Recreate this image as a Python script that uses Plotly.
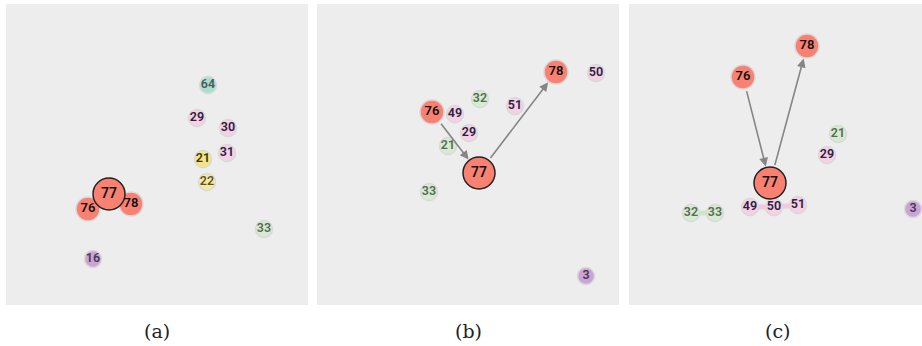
import plotly.graph_objects as go

W, H = 922, 346

# Panel frames in page pixels: left, top, right, bottom
panels = {
    "a": (6, 4, 308, 305),
    "b": (317, 4, 619, 305),
    "c": (629, 4, 922, 305),
}

# Node ids, positions (pixels inside each panel) and groups
a_ids = ["64", "29", "30", "31", "21", "22", "33", "16", "76", "78", "77"]
a_x = [202, 191, 222, 221, 197, 201, 258, 87, 82, 125, 103]
a_y = [81, 114, 124, 149, 155, 178, 225, 255, 205, 200, 190]
a_grp = ["teal", "pink", "pink", "pink", "yellow", "yellow2", "green", "purple", "red", "red", "focus"]

b_ids = ["78", "50", "32", "51", "76", "49", "29", "21", "33", "3", "77"]
b_x = [239, 279, 163, 198, 115, 138, 152, 131, 112, 269, 162]
b_y = [68, 69, 95, 102, 108, 110, 129, 142, 188, 272, 169]
b_grp = ["red", "pink", "green", "pink", "red", "pink", "pink", "green", "green", "purple", "focus"]

c_ids = ["78", "76", "21", "29", "49", "50", "51", "32", "33", "3", "77"]
c_x = [178, 114, 209, 198, 121, 145, 169, 62, 86, 284, 141]
c_y = [42, 73, 130, 151, 203, 203, 201, 209, 209, 205, 179]
c_grp = ["red", "red", "green", "pink", "pink", "pink", "pink", "green", "green", "purple", "focus"]

# Directed links (source -> target) per panel
b_arrows = [("76", "77"), ("77", "78")]
c_arrows = [("76", "77"), ("77", "78")]
# Undirected chains drawn under the nodes in panel c
c_links = [(["32", "33"], "green"), (["49", "50", "51"], "pink")]

fill = {
    "red": "#f98172", "focus": "#f98172", "pink": "#f7d0e4", "green": "#d6ecd1",
    "teal": "#aadccf", "yellow": "#f6e47c", "yellow2": "#f6eaa2", "purple": "#c9a4d4",
}
link_col = {"green": "#cde6c6", "pink": "#f6c8de"}
txt_col = {
    "red": "#111111", "focus": "#111111", "pink": "#2a2040", "green": "#5a6a58",
    "teal": "#4a5e5a", "yellow": "#3a3520", "yellow2": "#5a5530", "purple": "#4a3a55",
}
size = {"red": 24, "focus": 32}
font_sz = {"red": 13, "focus": 14}

fig = go.Figure()

data = [
    ("a", a_ids, a_x, a_y, a_grp, [], []),
    ("b", b_ids, b_x, b_y, b_grp, b_arrows, []),
    ("c", c_ids, c_x, c_y, c_grp, c_arrows, c_links),
]

annotations = []
layout_axes = {}
for i, (key, ids, xs, ys, grps, arrows, links) in enumerate(data, start=1):
    l, t, r, b = panels[key]
    sfx = "" if i == 1 else str(i)
    xa, ya = f"x{sfx}", f"y{sfx}"
    layout_axes[f"xaxis{sfx}"] = dict(domain=[l / W, r / W], range=[0, r - l],
                                     visible=False, fixedrange=True)
    layout_axes[f"yaxis{sfx}"] = dict(domain=[1 - b / H, 1 - t / H], range=[b - t, 0],
                                     visible=False, fixedrange=True)
    pos = {n: (x, y) for n, x, y in zip(ids, xs, ys)}
    grp = dict(zip(ids, grps))

    for chain, g in links:
        fig.add_trace(go.Scatter(
            x=[pos[n][0] for n in chain], y=[pos[n][1] for n in chain],
            mode="lines", line=dict(color=link_col[g], width=5),
            xaxis=xa, yaxis=ya, showlegend=False, hoverinfo="skip"))

    fig.add_trace(go.Scatter(
        x=xs, y=ys, mode="markers+text", text=ids, textposition="middle center",
        marker=dict(
            size=[size.get(g, 17) for g in grps],
            color=[fill[g] for g in grps],
            line=dict(color=["#222222" if g == "focus" else "#d9d9d9" for g in grps],
                      width=1.5),
            opacity=1,
        ),
        textfont=dict(family="Roboto, sans-serif", size=[font_sz.get(g, 12.5) for g in grps],
                      color=[txt_col[g] for g in grps], weight=600),
        xaxis=xa, yaxis=ya, showlegend=False, hoverinfo="text"))

    for s, d in arrows:
        rs = size.get(grp[s], 17) / 2
        rd = size.get(grp[d], 17) / 2
        annotations.append(dict(
            x=pos[d][0], y=pos[d][1], ax=pos[s][0], ay=pos[s][1],
            xref=xa, yref=ya, axref=xa, ayref=ya, text="", showarrow=True,
            arrowhead=2, arrowsize=1.1, arrowwidth=1.6, arrowcolor="#858585",
            standoff=rd + 1, startstandoff=rs + 1))

# Panel captions
for key, cx in (("a", 157), ("b", 469), ("c", 777)):
    annotations.append(dict(
        x=cx / W, y=(H - 331) / H, xref="paper", yref="paper", text=f"({key})",
        showarrow=False, font=dict(family="DejaVu Serif", size=19, color="#222222"),
        xanchor="center", yanchor="middle"))

fig.update_layout(
    width=W, height=H, margin=dict(l=0, r=0, t=0, b=0),
    paper_bgcolor="white", plot_bgcolor="#ededed",
    annotations=annotations, **layout_axes)

fig.write_html("out.html")
